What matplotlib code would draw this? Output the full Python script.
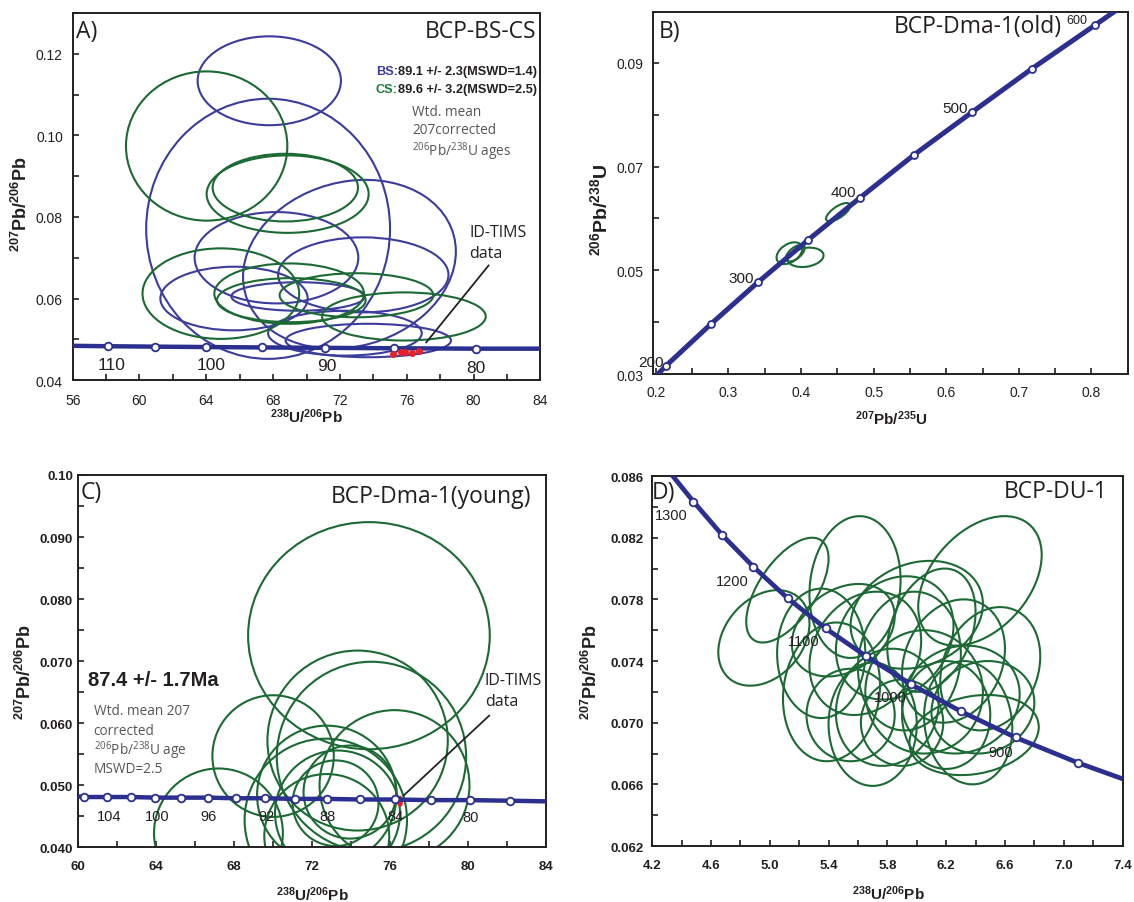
import numpy as np
import matplotlib
matplotlib.use("Agg")
import matplotlib.pyplot as plt
from matplotlib.patches import Circle
from matplotlib.transforms import Affine2D
from matplotlib.ticker import MultipleLocator, FormatStrFormatter, FuncFormatter

plt.rcParams.update(
    {
        "font.family": ["Liberation Sans", "DejaVu Sans"],
        "mathtext.fontset": "custom",
        "mathtext.default": "regular",
        "axes.linewidth": 1.4,
    }
)

BLUE = "#3b3c9c"
GREEN = "#1b6a33"
CONC = "#2b2f8f"
INK = "#231f20"
GREY = "#555658"
TITLE_FONT = ["Open Sans", "DejaVu Sans"]

# ---- Panel A: BCP-BS-CS (Tera-Wasserburg) ----
a_conc_x = [56.0, 58.09, 60.90, 63.97, 67.34, 71.10, 75.25, 80.16, 84.0]
a_conc_y = [0.0484, 0.0483, 0.0482, 0.0481, 0.0480, 0.0479, 0.0478, 0.0477, 0.0477]
a_age_labels = ["110", "100", "90", "80"]
a_age_x = [58.30, 64.27, 71.20, 80.16]
a_age_y = [0.0439, 0.0438, 0.0435, 0.0431]

a_blue_cx = [67.77, 67.70, 72.57, 68.20, 73.40, 65.66, 69.50, 72.30, 73.70]
a_blue_cy = [0.1134, 0.0771, 0.0684, 0.0700, 0.0658, 0.0600, 0.0605, 0.0515, 0.0497]
a_blue_sx = [4.29, 7.30, 6.37, 4.90, 5.10, 4.41, 4.00, 4.60, 4.95]
a_blue_sy = [0.0109, 0.0319, 0.0207, 0.0112, 0.0092, 0.0078, 0.0035, 0.0055, 0.0041]
a_blue_rho = [0.0, 0.0, 0.15, 0.0, 0.0, 0.0, 0.0, 0.0, 0.0]

a_green_cx = [64.02, 68.73, 68.87, 64.87, 68.96, 69.09, 72.99, 75.83]
a_green_cy = [0.0974, 0.0872, 0.0856, 0.0612, 0.0612, 0.0596, 0.0608, 0.0556]
a_green_sx = [4.83, 4.35, 4.85, 4.69, 4.48, 4.45, 4.60, 4.90]
a_green_sy = [0.0183, 0.0083, 0.0095, 0.0111, 0.0074, 0.0054, 0.0054, 0.0059]
a_green_rho = [0.0, 0.0, 0.0, 0.0, 0.0, 0.0, 0.0, 0.0]

a_tims_x = [75.15, 75.68, 75.90, 76.32, 76.75]
a_tims_y = [0.04638, 0.04679, 0.04679, 0.04654, 0.0472]
a_pointer_x = [77.17, 80.90]
a_pointer_y = [0.04924, 0.0681]

# ---- Panel B: BCP-Dma-1(old) (Wetherill) ----
b_conc_x = [0.2015, 0.2141, 0.2756, 0.3407, 0.4093, 0.4814, 0.5560, 0.6357, 0.7184, 0.8052, 0.8329]
b_conc_y = [0.0298, 0.0316, 0.0396, 0.0477, 0.0558, 0.0640, 0.0723, 0.0805, 0.0889, 0.0973, 0.1000]
b_age_labels = ["200", "300", "400", "500"]
b_age_x = [0.2106, 0.3350, 0.4763, 0.6300]
b_age_y = [0.0324, 0.0485, 0.0650, 0.0813]

b_cx = [0.4511, 0.3840, 0.3920, 0.4063]
b_cy = [0.0612, 0.0533, 0.0533, 0.0525]
b_sx = [0.0166, 0.0177, 0.0130, 0.0247]
b_sy = [0.00177, 0.0021, 0.0016, 0.00187]
b_rho = [0.7, 0.4, 0.6, 0.2]

# ---- Panel C: BCP-Dma-1(young) ----
c_conc_x = [60.0, 60.33, 61.50, 62.71, 63.97, 65.28, 66.66, 68.08, 69.57, 71.12, 72.75,
            74.45, 76.22, 78.09, 80.07, 82.13, 84.0]
c_conc_y = [0.0482, 0.0481, 0.0481, 0.0481, 0.0480, 0.0480, 0.0480, 0.0479, 0.0479,
            0.0478, 0.0478, 0.0477, 0.0477, 0.0476, 0.0476, 0.0475, 0.0474]
c_age_labels = ["104", "100", "96", "92", "88", "84", "80"]
c_age_x = [61.59, 64.06, 66.68, 69.64, 72.79, 76.28, 80.12]
c_age_y = [0.0451, 0.0451, 0.0451, 0.0451, 0.0451, 0.0451, 0.0448]

c_cx = [74.91, 74.33, 75.04, 70.00, 67.20, 76.22, 72.75, 72.70, 73.30, 73.20, 72.75, 73.94]
c_cy = [0.0741, 0.0572, 0.0546, 0.0547, 0.0423, 0.0500, 0.0484, 0.0444, 0.0455, 0.0471, 0.0418, 0.0489]
c_sx = [6.19, 4.62, 4.85, 3.11, 3.30, 3.84, 3.57, 4.16, 3.20, 2.20, 3.20, 2.38]
c_sy = [0.0183, 0.0145, 0.0153, 0.0098, 0.0104, 0.0121, 0.0112, 0.0131, 0.0101, 0.0069, 0.0100, 0.0075]
c_rho = [0.0] * 12

c_tims_x = [76.50]
c_tims_y = [0.0474]
c_pointer_x = [76.68, 81.07]
c_pointer_y = [0.04832, 0.06121]

# ---- Panel D: BCP-DU-1 ----
d_conc_x = [4.332, 4.481, 4.676, 4.887, 5.121, 5.380, 5.657, 5.958, 6.299, 6.673, 7.096, 7.40]
d_conc_y = [0.0861, 0.08434, 0.08218, 0.08013, 0.07808, 0.07612, 0.07430, 0.07251,
            0.07074, 0.06904, 0.06740, 0.06636]
d_age_labels = ["1300", "1200", "1100", "1000", "900"]
d_age_x = [4.332, 4.743, 5.228, 5.821, 6.573]
d_age_y = [0.08345, 0.07916, 0.07532, 0.07165, 0.06813]

d_cx = [4.96, 5.12, 5.58, 6.43, 5.70, 6.39, 6.50, 5.35, 5.42, 5.65, 5.85, 5.95,
        6.05, 6.30, 6.20, 5.80, 5.55, 6.10, 6.45, 5.90, 6.00, 5.50, 6.25, 6.35]
d_cy = [0.0755, 0.0786, 0.0788, 0.0792, 0.0699, 0.0692, 0.0735, 0.0745, 0.0720, 0.0745,
        0.0755, 0.0740, 0.0720, 0.0715, 0.0705, 0.0710, 0.0705, 0.0760, 0.0710, 0.0700,
        0.0770, 0.0760, 0.0740, 0.0700]
d_sx = [0.31, 0.28, 0.31, 0.42, 0.30, 0.44, 0.34, 0.30, 0.33, 0.38, 0.40, 0.35,
        0.40, 0.40, 0.30, 0.35, 0.30, 0.30, 0.35, 0.28, 0.45, 0.35, 0.35, 0.30]
d_sy = [0.0031, 0.0034, 0.0046, 0.0042, 0.0040, 0.0026, 0.0040, 0.0042, 0.0045, 0.0040,
        0.0040, 0.0045, 0.0040, 0.0035, 0.0035, 0.0038, 0.0030, 0.0040, 0.0030, 0.0028,
        0.0035, 0.0030, 0.0040, 0.0040]
d_rho = [0.3, 0.6, 0.1, 0.4, 0.0, 0.2, 0.2, 0.0, 0.1, 0.2, 0.2, 0.1,
         0.0, 0.1, 0.0, 0.1, 0.0, 0.3, 0.1, 0.0, 0.2, 0.3, 0.2, -0.1]

d_xticks = [4.2, 4.6, 5.0, 5.4, 5.8, 6.2, 6.6, 7.0, 7.4]
d_yticks = [0.062, 0.066, 0.070, 0.074, 0.078, 0.082, 0.086]


def draw_ellipses(ax, cx, cy, sx, sy, rho, color, lw=1.5, filled=False):
    # unit circle mapped onto an error ellipse (x/y half-extents + correlation)
    for x0, y0, a, b, r in zip(cx, cy, sx, sy, rho):
        m = np.array([[a, 0.0, x0], [b * r, b * np.sqrt(1 - r * r), y0], [0.0, 0.0, 1.0]])
        patch = Circle(
            (0, 0), 1,
            transform=Affine2D(m) + ax.transData,
            fill=filled,
            facecolor=color if filled else "none",
            edgecolor=color,
            linewidth=lw,
            zorder=2,
        )
        ax.add_patch(patch)


def draw_concordia(ax, x, y, marker_slice, lw=3.2, ms=5.5):
    ax.plot(x, y, color=CONC, linewidth=lw, zorder=4, solid_capstyle="butt")
    ax.plot(x[marker_slice], y[marker_slice], linestyle="none", marker="o",
            markersize=ms, markerfacecolor="white", markeredgecolor=CONC,
            markeredgewidth=1.3, zorder=5)


def style_axis(ax, bold_ticks, xpad, ypad, size=9.5):
    ax.tick_params(which="both", direction="in", length=4.5, width=1.2,
                   top=False, right=False, labelsize=size, colors=INK)
    ax.tick_params(axis="x", pad=xpad)
    ax.tick_params(axis="y", pad=ypad)
    for lab in ax.get_xticklabels() + ax.get_yticklabels():
        lab.set_fontweight("bold" if bold_ticks else "normal")
    for sp in ax.spines.values():
        sp.set_color(INK)


def set_labels(ax, xlabel, ylabel, xpos, ypos, xsize=11, ysize=13):
    ax.set_xlabel(xlabel, fontsize=xsize, fontweight="bold", color=INK)
    ax.set_ylabel(ylabel, fontsize=ysize, fontweight="bold", color=INK)
    ax.xaxis.set_label_coords(*xpos)
    ax.yaxis.set_label_coords(*ypos)
    ax.xaxis.label.set_va("center")
    ax.yaxis.label.set_va("center")


def panel_titles(ax, letter, name, lpos, rpos):
    ax.text(lpos[0], lpos[1], letter, transform=ax.transAxes, fontsize=16.5,
            family=TITLE_FONT, color=INK, ha="left", va="center")
    ax.text(rpos[0], rpos[1], name, transform=ax.transAxes, fontsize=16.5,
            family=TITLE_FONT, color=INK, ha="right", va="center")


fig = plt.figure(figsize=(11.34, 9.03), dpi=100)
axA = fig.add_axes([0.0641, 0.578, 0.4124, 0.4064])
axB = fig.add_axes([0.5761, 0.5847, 0.4190, 0.4009])
axC = fig.add_axes([0.0687, 0.0606, 0.4131, 0.4123])
axD = fig.add_axes([0.5751, 0.0620, 0.4148, 0.4097])

TW_X = r"$^{238}$U/$^{206}$Pb"
TW_Y = r"$^{207}$Pb/$^{206}$Pb"

# ---------------- A ----------------
draw_ellipses(axA, a_blue_cx, a_blue_cy, a_blue_sx, a_blue_sy, a_blue_rho, BLUE)
draw_ellipses(axA, a_green_cx, a_green_cy, a_green_sx, a_green_sy, a_green_rho, GREEN)
draw_concordia(axA, np.array(a_conc_x), np.array(a_conc_y), slice(1, -1))
axA.plot(a_tims_x, a_tims_y, linestyle="none", marker="o", markersize=4,
         color="#e8202a", zorder=6)
axA.plot(a_pointer_x, a_pointer_y, color="#222222", linewidth=1.3, zorder=6)
for lab, x, y in zip(a_age_labels, a_age_x, a_age_y):
    axA.text(x, y, lab, fontsize=12.5, ha="center", va="center", color=INK)
axA.text(79.73, 0.0762, "ID-TIMS", fontsize=11.5, family=TITLE_FONT, color=INK,
         ha="left", va="center")
axA.text(79.73, 0.0711, "data", fontsize=11.5, family=TITLE_FONT, color=INK,
         ha="left", va="center")

t_bs = axA.text(83.78, 0.1157, "89.1 +/- 2.3(MSWD=1.4)", fontsize=9.2, fontweight="bold",
                color=INK, ha="right", va="center")
axA.annotate("BS:", xy=(0, 0.5), xycoords=t_bs, fontsize=9.2, fontweight="bold",
             color=BLUE, ha="right", va="center")
t_cs = axA.text(83.78, 0.1114, "89.6 +/- 3.2(MSWD=2.5)", fontsize=9.2, fontweight="bold",
                color=INK, ha="right", va="center")
axA.annotate("CS:", xy=(0, 0.5), xycoords=t_cs, fontsize=9.2, fontweight="bold",
             color="#1e7a3c", ha="right", va="center")
axA.text(76.32, 0.1058, "Wtd. mean", fontsize=9.8, family=TITLE_FONT, color=GREY, va="center")
axA.text(76.32, 0.1014, "207corrected", fontsize=9.8, family=TITLE_FONT, color=GREY, va="center")
axA.text(76.32, 0.0963, r"$^{206}$Pb/$^{238}$U ages", fontsize=9.8, family=TITLE_FONT,
         color=GREY, va="center")

axA.set_xlim(56, 84)
axA.set_ylim(0.04, 0.13)
axA.xaxis.set_major_locator(MultipleLocator(4))
axA.xaxis.set_minor_locator(MultipleLocator(2))
axA.yaxis.set_major_locator(MultipleLocator(0.02))
axA.yaxis.set_minor_locator(MultipleLocator(0.01))
axA.xaxis.set_major_formatter(FormatStrFormatter("%d"))
axA.yaxis.set_major_formatter(FormatStrFormatter("%.2f"))
style_axis(axA, False, xpad=9, ypad=7, size=10)
set_labels(axA, TW_X, TW_Y, (0.5, -0.098), (-0.111, 0.482))
panel_titles(axA, "A)", "BCP-BS-CS", (0.008, 0.95), (0.992, 0.952))

# ---------------- B ----------------
draw_ellipses(axB, b_cx, b_cy, b_sx, b_sy, b_rho, GREEN, lw=1.5)
draw_concordia(axB, np.array(b_conc_x), np.array(b_conc_y), slice(1, -1), lw=3.6, ms=5)
for lab, x, y in zip(b_age_labels, b_age_x, b_age_y):
    axB.text(x, y, lab, fontsize=11, ha="right", va="center", color=INK)
axB.text(0.766, 0.0982, "600", fontsize=9, ha="left", va="center", color=INK)
axB.set_xlim(0.1965, 0.851)
axB.set_ylim(0.03, 0.0998)
axB.xaxis.set_major_locator(MultipleLocator(0.1))
axB.xaxis.set_minor_locator(MultipleLocator(0.05))
axB.set_yticks([0.03, 0.05, 0.07, 0.09])
axB.yaxis.set_minor_locator(MultipleLocator(0.01))
axB.xaxis.set_major_formatter(FormatStrFormatter("%.1f"))
axB.yaxis.set_major_formatter(FormatStrFormatter("%.2f"))
style_axis(axB, False, xpad=8, ypad=7, size=10)
set_labels(axB, r"$^{207}$Pb/$^{235}$U", r"$^{206}$Pb/$^{238}$U",
           (0.5, -0.1215), (-0.1116, 0.456), ysize=14)
panel_titles(axB, "B)", "BCP-Dma-1(old)", (0.012, 0.948), (0.859, 0.962))

# ---------------- C ----------------
draw_ellipses(axC, c_cx, c_cy, c_sx, c_sy, c_rho, GREEN)
draw_concordia(axC, np.array(c_conc_x), np.array(c_conc_y), slice(1, -1))
draw_ellipses(axC, c_tims_x, c_tims_y, [0.12], [0.0008], [0.0], "#e8202a", lw=1, filled=True)
axC.plot(c_pointer_x, c_pointer_y, color="#222222", linewidth=1.3, zorder=6)
for lab, x, y in zip(c_age_labels, c_age_x, c_age_y):
    axC.text(x, y, lab, fontsize=10.5, ha="center", va="center", color=INK)
axC.text(80.85, 0.0669, "ID-TIMS", fontsize=11.5, family=TITLE_FONT, color=INK,
         ha="left", va="center")
axC.text(80.85, 0.0636, "data", fontsize=11.5, family=TITLE_FONT, color=INK,
         ha="left", va="center")
axC.text(60.5, 0.0671, "87.4 +/- 1.7Ma", fontsize=14.5, fontweight="bold", color=INK,
         ha="left", va="center")
for txt, y in zip(["Wtd. mean 207", "corrected", r"$^{206}$Pb/$^{238}$U age", "MSWD=2.5"],
                  [0.0620, 0.0589, 0.0557, 0.0527]):
    axC.text(60.8, y, txt, fontsize=9.8, family=TITLE_FONT, color=GREY, va="center")
axC.set_xlim(60, 84)
axC.set_ylim(0.04, 0.10)
axC.xaxis.set_major_locator(MultipleLocator(4))
axC.xaxis.set_minor_locator(MultipleLocator(2))
axC.yaxis.set_major_locator(MultipleLocator(0.01))
axC.yaxis.set_minor_locator(MultipleLocator(0.005))
axC.xaxis.set_major_formatter(FormatStrFormatter("%d"))
axC.yaxis.set_major_formatter(
    FuncFormatter(lambda v, p: "0.10" if abs(v - 0.1) < 1e-9 else f"{v:.3f}"))
style_axis(axC, True, xpad=9, ypad=3.5, size=9.5)
set_labels(axC, TW_X, TW_Y, (0.5, -0.125), (-0.113, 0.474))
panel_titles(axC, "C)", "BCP-Dma-1(young)", (0.005, 0.9535), (0.968, 0.944))

# ---------------- D ----------------
draw_ellipses(axD, d_cx, d_cy, d_sx, d_sy, d_rho, GREEN, lw=1.5)
draw_concordia(axD, np.array(d_conc_x), np.array(d_conc_y), slice(1, -1), lw=3.4, ms=5.5)
for lab, x, y in zip(d_age_labels, d_age_x, d_age_y):
    axD.text(x, y, lab, fontsize=10.5, ha="center", va="center", color=INK, zorder=7)
axD.set_xlim(4.2, 7.4)
axD.set_ylim(0.062, 0.086)
axD.set_xticks(d_xticks)
axD.xaxis.set_minor_locator(MultipleLocator(0.2))
axD.set_yticks(d_yticks)
axD.yaxis.set_minor_locator(MultipleLocator(0.002))
axD.xaxis.set_major_formatter(FormatStrFormatter("%.1f"))
axD.yaxis.set_major_formatter(FormatStrFormatter("%.3f"))
style_axis(axD, True, xpad=9, ypad=6, size=9.5)
set_labels(axD, TW_X, TW_Y, (0.503, -0.125), (-0.13, 0.473))
panel_titles(axD, "D)", "BCP-DU-1", (0.0, 0.956), (0.967, 0.959))

fig.savefig("out.png", dpi=100)
